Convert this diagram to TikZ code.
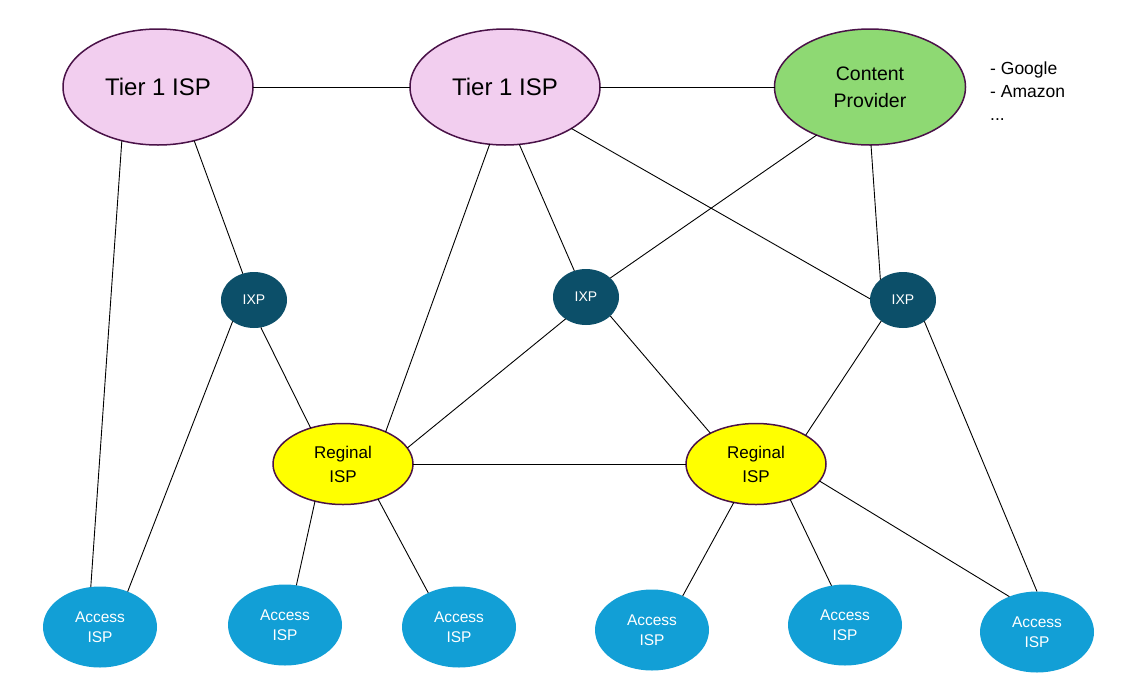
\documentclass[tikz,border=0pt]{standalone}
\usepackage{fontspec}
\setmainfont{Liberation Sans}
\usetikzlibrary{shapes.geometric}
\definecolor{tierfill}{HTML}{F2CEEF}
\definecolor{rim}{HTML}{4A1248}
\definecolor{cpfill}{HTML}{8ED973}
\definecolor{ixpfill}{HTML}{0C4F69}
\definecolor{accfill}{HTML}{129FD6}
\definecolor{regfill}{HTML}{FFFF00}
\tikzset{
  base/.style={ellipse, inner sep=0pt, outer sep=0pt, align=center},
  tier/.style={base, fill=tierfill, draw=rim, line width=1.5pt, minimum width=190pt, minimum height=116pt, font=\fontsize{24}{28}\selectfont},
  cp/.style={base, fill=cpfill, draw=rim, line width=1.5pt, minimum width=191pt, minimum height=116pt, font=\fontsize{19.5}{27}\selectfont},
  ixp/.style={base, fill=ixpfill, minimum width=66pt, minimum height=56pt, text=white, font=\fontsize{14}{16}\selectfont},
  reg/.style={base, fill=regfill, draw=rim, line width=1.5pt, minimum width=140pt, minimum height=81pt, font=\fontsize{17}{24}\selectfont},
  acc/.style={base, fill=accfill, minimum width=114pt, minimum height=81pt, text=white, font=\fontsize{15.5}{20}\selectfont},
  link/.style={draw=black, line width=0.9pt},
}
\begin{document}
\begin{tikzpicture}[x=1pt,y=-1pt]
\fill[white] (0,0) rectangle (1137,686);
\useasboundingbox (0,0) rectangle (1137,686);
% nodes
\node[tier] (t1a) at (158,87) {Tier 1 ISP};
\node[tier] (t1b) at (505,87) {Tier 1 ISP};
\node[cp] (cp) at (870,87) {Content\\Provider};
\node[anchor=north west, align=left, inner sep=0pt, font=\fontsize{17.5}{23}\selectfont] (list) at (990,62) {- Google\\- Amazon\\...};
\node[ixp] (x1) at (254,300) {IXP};
\node[ixp] (x2) at (586,297) {IXP};
\node[ixp] (x3) at (903,300) {IXP};
\node[reg] (r1) at (343,464) {Reginal\\ISP};
\node[reg] (r2) at (756,464) {Reginal\\ISP};
\node[acc] (a1) at (100,627) {Access\\ISP};
\node[acc] (a2) at (285,625) {Access\\ISP};
\node[acc] (a3) at (459,627) {Access\\ISP};
\node[acc] (a4) at (652,630) {Access\\ISP};
\node[acc] (a5) at (845,625) {Access\\ISP};
\node[acc] (a6) at (1037,632) {Access\\ISP};
% links
\path[link] (t1a.east) -- (t1b.west);
\path[link] (t1b.east) -- (cp.west);
\path[link] (t1a.-124.2) -- (a1.103);
\path[link] (t1a.-56.5) -- (x1.113.7);
\path[link] (t1b.-105.4) -- (r1.37.3);
\path[link] (t1b.-76.4) -- (x2.114.8);
\path[link] (t1b.-32.3) -- (x3.178);
\path[link] (cp.-138.3) -- (x2.38.4);
\path[link] (cp.-89) -- (x3.138);
\path[link] (x1.-135) -- (a1.52.9);
\path[link] (x1.-76.5) -- (r1.132.6);
\path[link] (x2.-133.6) -- (r1.14.7);
\path[link] (x2.-38.4) -- (r2.146.6);
\path[link] (x3.-136.3) -- (r2.30.5);
\path[link] (x3.-45) -- (a6.90);
\path[link] (r1.east) -- (r2.west);
\path[link] (r1.-127.3) -- (a2.74.2);
\path[link] (r1.-45.7) -- (a3.132.4);
\path[link] (r2.-120.7) -- (a4.48.5);
\path[link] (r2.-46.2) -- (a5.109.6);
\path[link] (r2.-15.9) -- (a6.128.7);
\end{tikzpicture}
\end{document}
